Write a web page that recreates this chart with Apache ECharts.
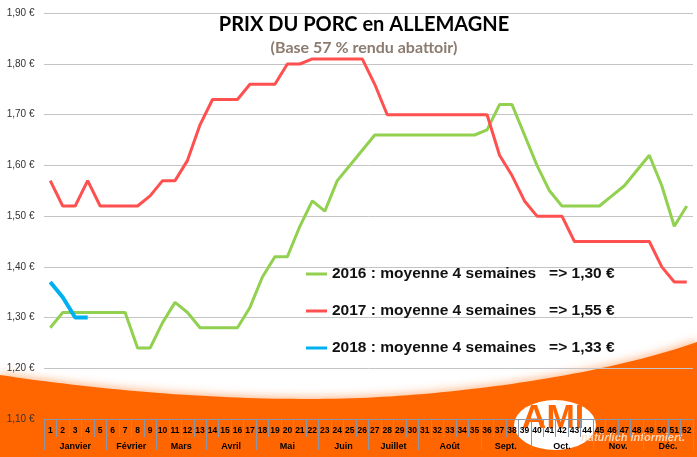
<!DOCTYPE html>
<html><head><meta charset="utf-8">
<script src="https://cdn.jsdelivr.net/npm/echarts@6/dist/echarts.min.js"></script>
<style>html,body{margin:0;padding:0;background:#fff}#c{width:697px;height:457px}</style>
</head><body><div id="c"></div>
<script>
const weeks = ['1','2','3','4','5','6','7','8','9','10','11','12','13','14','15','16','17','18','19','20','21','22','23','24','25','26','27','28','29','30','31','32','33','34','35','36','37','38','39','40','41','42','43','44','45','46','47','48','49','50','51','52'];
const prix2016 = [1.28,1.31,1.31,1.31,1.31,1.31,1.31,1.24,1.24,1.29,
                  1.33,1.31,1.28,1.28,1.28,1.28,1.32,1.38,1.42,1.42,
                  1.48,1.53,1.51,1.57,1.60,1.63,1.66,1.66,1.66,1.66,
                  1.66,1.66,1.66,1.66,1.66,1.67,1.72,1.72,1.66,1.60,
                  1.55,1.52,1.52,1.52,1.52,1.54,1.56,1.59,1.62,1.56,
                  1.48,1.52];
const prix2017 = [1.57,1.52,1.52,1.57,1.52,1.52,1.52,1.52,1.54,1.57,
                  1.57,1.61,1.68,1.73,1.73,1.73,1.76,1.76,1.76,1.80,
                  1.80,1.81,1.81,1.81,1.81,1.81,1.76,1.70,1.70,1.70,
                  1.70,1.70,1.70,1.70,1.70,1.70,1.62,1.58,1.53,1.50,
                  1.50,1.50,1.45,1.45,1.45,1.45,1.45,1.45,1.45,1.40,
                  1.37,1.37];
const prix2018 = [1.37,1.34,1.30,1.30];
const seriesNames = ['2016','2017','2018'];
const moyennes = ['1,30 €','1,55 €','1,33 €'];
const months = ['Janvier','Février','Mars','Avril','Mai','Juin','Juillet','Août','Sept.','Oct.','Nov.','Déc.'];
const monthWeeks = [5,4,4,4,5,4,4,5,4,5,4,4];
const titleText = 'PRIX DU PORC en ALLEMAGNE';
const subtitleText = '(Base 57 % rendu abattoir)';
const yMin = 1.1, yMax = 1.9, yStep = 0.1;

const bounds = [0];
monthWeeks.forEach(n => bounds.push(bounds[bounds.length - 1] + n));
const centers = months.map((m, i) => (bounds[i] + bounds[i + 1]) / 2);

// decorative orange swoosh outline (two cubic segments, sampled)
function cubic(p0, p1, p2, p3, n) {
  const pts = [];
  for (let i = 0; i <= n; i++) {
    const t = i / n, u = 1 - t;
    pts.push([
      u*u*u*p0[0] + 3*u*u*t*p1[0] + 3*u*t*t*p2[0] + t*t*t*p3[0],
      u*u*u*p0[1] + 3*u*u*t*p1[1] + 3*u*t*t*p2[1] + t*t*t*p3[1]
    ]);
  }
  return pts;
}
const swoosh = cubic([0,375],[120,393],[250,402],[360,398],40)
  .concat(cubic([360,398],[460,394],[600,376],[697,342],40))
  .concat([[697,457],[0,457]]);

const boxColor = '#8797ae';
const chart = echarts.init(document.getElementById('c'), null, {renderer: 'canvas'});
chart.setOption({
  animation: false,
  backgroundColor: '#fff',
  grid: {left: 44, right: 4, top: 13.3, bottom: 38, containLabel: false, outerBoundsMode: 'none'},
  xAxis: [{
    type: 'category', data: weeks, boundaryGap: true, position: 'bottom',
    axisLine: {show: true, lineStyle: {color: boxColor, width: 1}},
    axisTick: {show: true, interval: 0, length: 18, lineStyle: {color: boxColor, width: 1}},
    axisLabel: {interval: 0, margin: 7, fontFamily: 'Liberation Sans', fontWeight: 'bold', fontSize: 8.5, color: '#000'},
    splitLine: {show: false}
  }, {
    type: 'value', min: 0, max: 52, position: 'bottom', gridIndex: 0,
    axisLine: {show: false},
    axisTick: {show: true, customValues: bounds, length: 31, lineStyle: {color: boxColor, width: 1}},
    axisLabel: {customValues: centers, margin: 23, fontFamily: 'Liberation Sans', fontWeight: 'bold', fontSize: 9, color: '#000',
      formatter: v => { const i = centers.findIndex(c => Math.abs(c - v) < 1e-6); return i >= 0 ? months[i] : ''; }},
    splitLine: {show: false}
  }],
  yAxis: {
    type: 'value', min: yMin, max: yMax, interval: yStep,
    axisLine: {show: false}, axisTick: {show: false},
    axisLabel: {margin: 9.5, fontFamily: 'Liberation Sans', fontSize: 10, color: '#333',
      formatter: v => v.toFixed(2).replace('.', ',') + ' €'},
    splitLine: {lineStyle: {color: '#c4c4c4', width: 1}}
  },
  legend: {
    orient: 'vertical', left: 306, top: 266, padding: 0, itemWidth: 21, itemHeight: 3, itemGap: 21,
    icon: 'rect', selectedMode: false, data: seriesNames,
    textStyle: {fontFamily: 'Liberation Sans', fontWeight: 'bold', fontSize: 15.5, color: '#111'},
    formatter: name => name + ' : moyenne 4 semaines   => ' + moyennes[seriesNames.indexOf(name)]
  },
  series: [
    {name: seriesNames[0], type: 'line', data: prix2016, symbol: 'none', z: 3,
     lineStyle: {color: '#92d050', width: 3}, itemStyle: {color: '#92d050'}},
    {name: seriesNames[1], type: 'line', data: prix2017, symbol: 'none', z: 4,
     lineStyle: {color: '#ff5050', width: 3}, itemStyle: {color: '#ff5050'}},
    {name: seriesNames[2], type: 'line', data: prix2018, symbol: 'none', z: 5,
     lineStyle: {color: '#00b0f0', width: 4}, itemStyle: {color: '#00b0f0'}}
  ],
  graphic: [
    {type: 'polygon', z: -10, shape: {points: swoosh},
     style: {fill: '#ff6600', shadowBlur: 8, shadowColor: 'rgba(255,110,20,0.45)', shadowOffsetY: -2}},
    {type: 'circle', z: -5, x: 555, y: 425, scaleX: 41 / 25, shape: {cx: 0, cy: 0, r: 25}, style: {fill: '#fff'}},
    {type: 'text', z: -4, x: 553, y: 419, style: {text: 'AMI', fill: '#ff6600', font: 'bold 34px "Liberation Sans"', textAlign: 'center', textVerticalAlign: 'middle'}},
    {type: 'text', z: -4, x: 633, y: 438, style: {text: 'natürlich informiert.', fill: 'rgba(255,225,200,0.9)', font: 'italic bold 11px "Liberation Sans"', textAlign: 'center', textVerticalAlign: 'middle'}},
    {type: 'text', z: 10, x: 364, y: 24.5, style: {text: titleText, fill: '#000', font: 'bold 20px Lato', textAlign: 'center', textVerticalAlign: 'middle'}},
    {type: 'text', z: 10, x: 364, y: 47.5, style: {text: subtitleText, fill: '#8b7b70', font: 'bold 16px Lato', textAlign: 'center', textVerticalAlign: 'middle'}}
  ]
});
</script></body></html>
